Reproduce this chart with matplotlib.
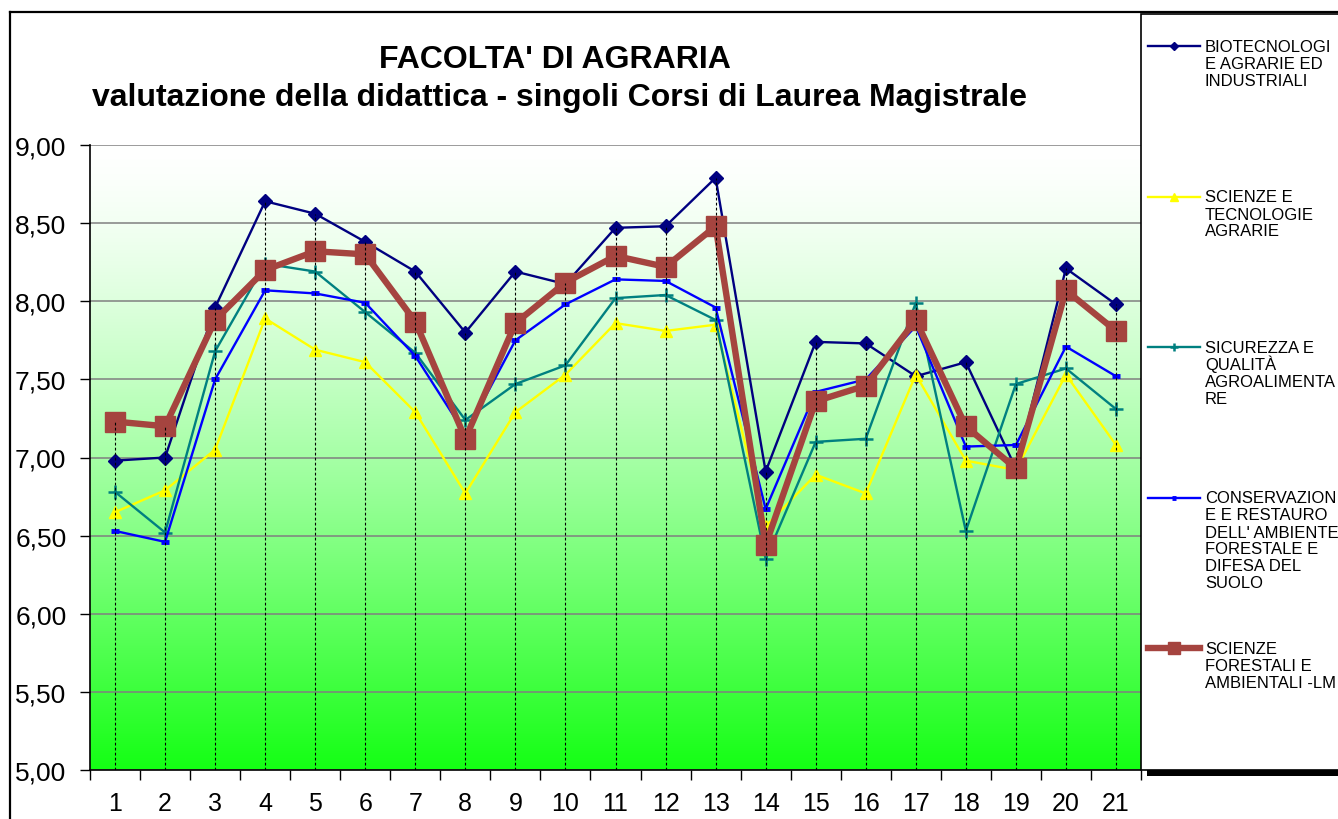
"""Valutazione della didattica - Facolta' di Agraria, corsi di laurea magistrale."""

import numpy as np
import matplotlib
matplotlib.use('Agg')
from matplotlib import pyplot as plt
from matplotlib.lines import Line2D
from matplotlib.patches import Rectangle

# Data
corsi = list(range(1, 22))
series_labels = [
    'BIOTECNOLOGI\nE AGRARIE ED\nINDUSTRIALI',
    'SCIENZE E\nTECNOLOGIE\nAGRARIE',
    'SICUREZZA E\nQUALITÀ\nAGROALIMENTA\nRE',
    "CONSERVAZION\nE E RESTAURO\nDELL' AMBIENTE\nFORESTALE E\nDIFESA DEL\nSUOLO",
    'SCIENZE\nFORESTALI E\nAMBIENTALI -LM',
]
biotecnologie = [6.98, 7.00, 7.96, 8.64, 8.56, 8.38, 8.19, 7.80, 8.19, 8.11, 8.47,
                 8.48, 8.79, 6.91, 7.74, 7.73, 7.52, 7.61, 6.93, 8.21, 7.98]
scienze_agrarie = [6.65, 6.79, 7.05, 7.89, 7.69, 7.61, 7.29, 6.77, 7.29, 7.53, 7.86,
                   7.81, 7.85, 6.56, 6.89, 6.77, 7.53, 6.98, 6.92, 7.53, 7.08]
sicurezza = [6.78, 6.52, 7.68, 8.24, 8.19, 7.93, 7.67, 7.24, 7.47, 7.59, 8.02,
             8.04, 7.88, 6.35, 7.10, 7.12, 7.99, 6.53, 7.47, 7.57, 7.31]
conservazione = [6.53, 6.46, 7.50, 8.07, 8.05, 7.99, 7.65, 7.15, 7.75, 7.98, 8.14,
                 8.13, 7.96, 6.67, 7.42, 7.50, 7.84, 7.07, 7.08, 7.71, 7.52]
forestali = [7.23, 7.20, 7.88, 8.20, 8.32, 8.30, 7.87, 7.12, 7.86, 8.12, 8.29,
             8.22, 8.48, 6.44, 7.36, 7.46, 7.88, 7.20, 6.93, 8.07, 7.81]

W, H = 1338, 820


def fx(px):
    return px / W


def fy(py):
    return 1 - py / H


def main():
    plt.rcParams['font.family'] = ['Liberation Sans', 'DejaVu Sans']
    fig = plt.figure(figsize=(W / 100, H / 100), dpi=100)
    ax = fig.add_axes([fx(90), fy(771), fx(1141) - fx(90), (771 - 146) / H])

    # White-to-green gradient background
    t = np.linspace(0, 1, 256)
    r = (255 - 235 * t ** 1.4) / 255
    grad = np.stack([r, np.ones_like(r), r], axis=1)[:, None, :]
    ax.imshow(grad, extent=[0.5, 21.5, 5, 9], aspect='auto', origin='upper', zorder=0)

    all_series = [biotecnologie, scienze_agrarie, sicurezza, conservazione, forestali]
    styles = [
        dict(color='#000080', marker='D', ms=6.8, lw=1.7),
        dict(color='#ffff00', marker='^', ms=9, lw=1.7),
        dict(color='#008080', marker='+', ms=10, mew=1.8, lw=1.7),
        dict(color='#0000ff', marker='_', ms=6, mew=3.5, lw=1.7),
        dict(color='#a5443f', marker='s', ms=14.5, lw=4.6),
    ]
    for values, style in zip(all_series, styles):
        ax.plot(corsi, values, zorder=3, **style)

    # Drop lines from the top point of each category
    tops = np.max(np.array(all_series), axis=0)
    ax.vlines(corsi, 5, tops, colors='black', linestyles=(0, (2.5, 2)), lw=0.8, zorder=6)

    ax.set_xlim(0.5, 21.5)
    ax.set_ylim(5, 9)
    ax.set_xticks(np.arange(0.5, 22, 1))
    ax.set_xticklabels([])
    ax.set_xticks(corsi, minor=True)
    ax.set_xticklabels([str(c) for c in corsi], minor=True)
    ax.tick_params(axis='x', which='minor', length=0, pad=15, labelsize=18)
    ax.tick_params(axis='x', which='major', length=7, width=1)
    yt = np.arange(5, 9.01, 0.5)
    ax.set_yticks(yt)
    ax.set_yticklabels([f'{v:.2f}'.replace('.', ',') for v in yt])
    ax.tick_params(axis='y', length=7, width=1, pad=10, labelsize=19)
    ax.yaxis.grid(True, color='#808080', lw=1.1)
    ax.set_axisbelow(True)
    for side in ['top', 'right']:
        ax.spines[side].set_visible(False)
    for side in ['left', 'bottom']:
        ax.spines[side].set_color('black')
        ax.spines[side].set_linewidth(1.2)

    # Title
    fig.text(fx(555), fy(68), "FACOLTA' DI AGRARIA", ha='center', va='baseline',
             fontsize=23, fontweight='bold')
    fig.text(fx(560), fy(106), 'valutazione della didattica - singoli Corsi di Laurea Magistrale',
             ha='center', va='baseline', fontsize=23, fontweight='bold')

    # Outer chart border
    fig.add_artist(Line2D([fx(10), fx(10)], [fy(822), fy(13)], color='black', lw=1.6))
    fig.add_artist(Line2D([fx(10), fx(1340)], [fy(13), fy(13)], color='black', lw=1.6))

    # Legend box with shadow
    fig.add_artist(Rectangle((fx(1147), fy(777)), fx(1345) - fx(1147), 8 / H,
                             transform=fig.transFigure, facecolor='black', edgecolor='none'))
    fig.add_artist(Rectangle((fx(1141), fy(771)), fx(1345) - fx(1141), (771 - 15) / H,
                             transform=fig.transFigure, facecolor='white',
                             edgecolor='black', lw=1.2))
    for i, (label, style) in enumerate(zip(series_labels, styles)):
        y = 47 + 150.5 * i
        st = dict(style)
        st['ms'] = st['ms'] * 0.6
        fig.add_artist(Line2D([fx(1148), fx(1174), fx(1200)], [fy(y)] * 3,
                              markevery=[1], **st))
        for j, line in enumerate(label.split('\n')):
            fig.text(fx(1205), fy(y + 5 + 17 * j), line, ha='left', va='baseline',
                     fontsize=12)

    fig.savefig('out.png', dpi=100)


if __name__ == "__main__":
    main()
